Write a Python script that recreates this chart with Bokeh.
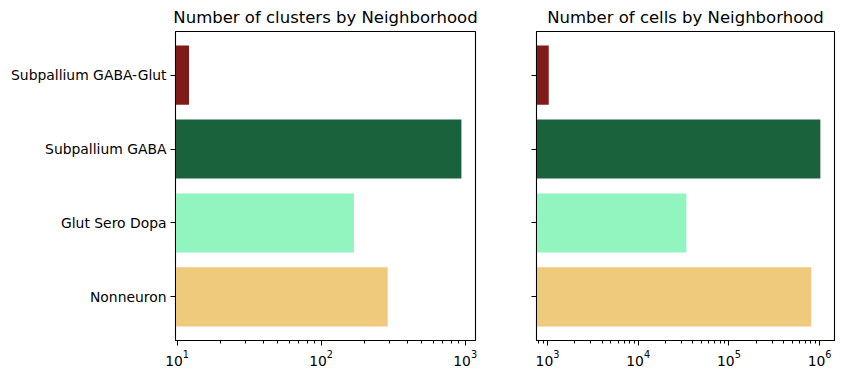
from bokeh.plotting import figure
from bokeh.layouts import row
from bokeh.models import Range1d, FixedTicker, LogTicker, ColumnDataSource
from bokeh.embed import file_html
from bokeh.resources import INLINE

categories = ["Nonneuron", "Glut Sero Dopa", "Subpallium GABA", "Subpallium GABA-Glut"]
n_clusters = [290, 169, 942, 12.1]
n_cells = [809000, 34000, 1020000, 1033]
colors = ["#f0ca7c", "#92f4be", "#19623c", "#801b1a"]
titles = ["Number of clusters by Neighborhood", "Number of cells by Neighborhood"]
x_ranges = [(9.75, 1180), (757, 1.46e6)]
baseline = 1e-3

FONT = "DejaVu Sans"
pos = list(range(len(categories)))


def make(values, title, xr, show_labels, width, bl, br):
    src = ColumnDataSource(dict(y=pos, right=values, left=[baseline] * len(values), color=colors))
    p = figure(width=width, height=370, x_axis_type="log",
               x_range=Range1d(*xr), y_range=Range1d(-0.59, len(categories) - 1 + 0.59),
               output_backend="svg", toolbar_location=None,
               min_border_left=bl, min_border_right=br, min_border_top=25, min_border_bottom=30)
    p.hbar(y="y", left="left", right="right", height=0.8, color="color", source=src, line_color=None)
    p.title.text = title
    p.title.align = "center"
    p.title.text_font = FONT
    p.title.text_font_size = "16.5px"
    p.title.text_font_style = "normal"
    p.title.text_color = "black"
    p.xgrid.visible = False
    p.ygrid.visible = False
    p.outline_line_color = "black"
    p.outline_line_width = 1.1
    p.outline_line_alpha = 1
    p.yaxis.ticker = FixedTicker(ticks=pos)
    if show_labels:
        p.yaxis.major_label_overrides = {i: c for i, c in enumerate(categories)}
    else:
        p.yaxis.major_label_overrides = {i: "" for i in pos}
    p.yaxis.minor_tick_line_color = None
    for ax in (p.xaxis, p.yaxis):
        ax.axis_line_color = "black"
        ax.major_tick_in = 0
        ax.major_tick_out = 5
        ax.minor_tick_in = 0
        ax.minor_tick_out = 3
        ax.major_tick_line_color = "black"
        ax.major_label_text_font = FONT
        ax.major_label_text_font_size = "13.9px"
        ax.major_label_text_color = "black"
        ax.major_label_standoff = 4
    p.xaxis.ticker = LogTicker(num_minor_ticks=10)
    p.xaxis.minor_tick_line_color = "black"
    return p


p1 = make(n_clusters, titles[0], x_ranges[0], True, 495, 175, 20)
p2 = make(n_cells, titles[1], x_ranges[1], False, 344, 41, 5)
layout = row(p1, p2)

open("out.html", "w").write(file_html(layout, INLINE))
